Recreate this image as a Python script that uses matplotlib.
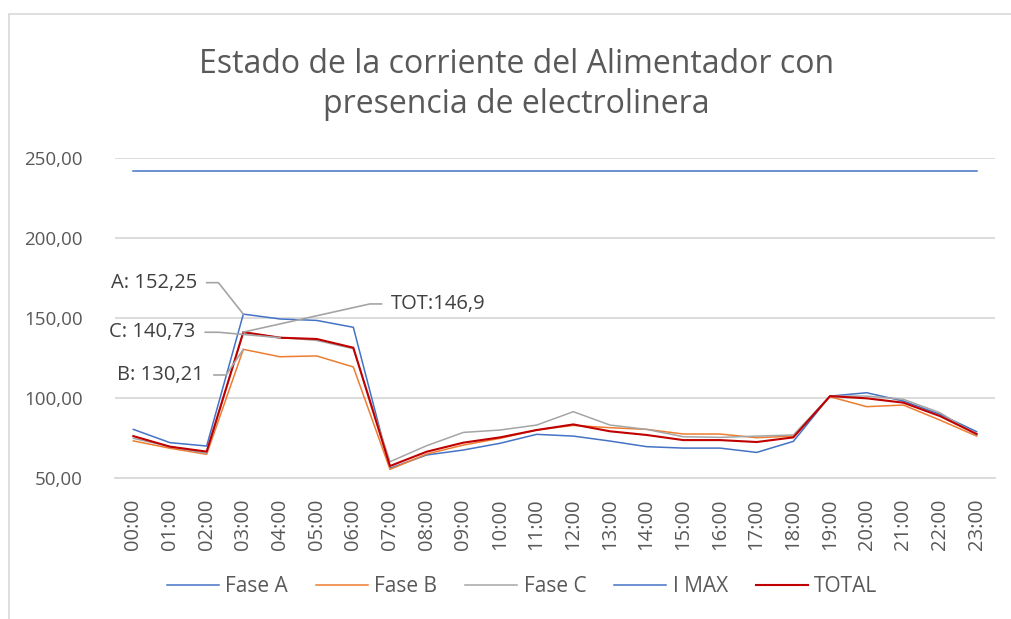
import numpy as np
import matplotlib
matplotlib.use("Agg")
import matplotlib.pyplot as plt
from matplotlib.patches import Rectangle

plt.rcParams['font.family'] = ['Open Sans', 'DejaVu Sans']

horas = ["%02d:00" % h for h in range(24)]

fase_a = [80.2, 71.9, 69.8, 152.25, 149.2, 148.3, 144.0, 55.9, 64.2, 67.3, 71.5, 77.1,
          76.0, 72.9, 69.4, 68.5, 68.5, 65.8, 72.7, 101.0, 103.1, 97.9, 89.6, 78.75]
fase_b = [73.0, 68.4, 64.6, 130.21, 125.6, 126.1, 119.2, 55.2, 64.8, 70.4, 74.6, 79.8,
          82.7, 81.25, 80.2, 77.3, 77.3, 75.0, 76.0, 100.6, 94.4, 95.4, 86.0, 76.0]
fase_c = [74.6, 69.4, 65.2, 140.73, 137.6, 135.8, 130.6, 60.0, 70.0, 78.3, 79.8, 82.9,
          91.25, 82.9, 80.2, 75.6, 75.2, 76.0, 76.7, 101.0, 101.0, 99.0, 90.6, 76.7]
i_max = [241.7] * 24
total = [76.0, 69.4, 66.3, 141.0, 137.5, 136.7, 131.25, 57.3, 66.25, 71.9, 75.2, 79.8,
         83.3, 79.0, 76.7, 73.5, 73.5, 72.3, 75.2, 101.0, 99.6, 96.9, 88.5, 77.3]

gris = '#595959'
W, H = 1011, 619
fig = plt.figure(figsize=(W / 100, H / 100), dpi=100)

# borde del area del grafico (solo se ve arriba e izquierda)
fig.patches.append(Rectangle((9 / W, -0.1), 1.2, 1 - 14 / H + 0.1, transform=fig.transFigure,
                             fill=False, edgecolor='#D9D9D9', lw=1.2))

ax = fig.add_axes([115 / W, 1 - 477.7 / H, 880 / W, 320 / H])
x = np.arange(len(horas))

ax.plot(x, fase_a, color='#4472C4', lw=1.1, label='Fase A')
ax.plot(x, fase_b, color='#ED7D31', lw=1.1, label='Fase B')
ax.plot(x, fase_c, color='#A5A5A5', lw=1.1, label='Fase C')
ax.plot(x, i_max, color='#4472C4', lw=1.1, label='I MAX')
ax.plot(x, total, color='#C00000', lw=1.5, label='TOTAL')

ax.set_xlim(-0.5, 23.5)
ax.set_ylim(50, 250)
ax.set_yticks([50, 100, 150, 200, 250])
ax.yaxis.set_major_formatter(matplotlib.ticker.FuncFormatter(lambda v, p: ("%.2f" % v).replace('.', ',')))
ax.set_xticks(x)
ax.set_xticklabels(horas, rotation=90)
ax.tick_params(axis='both', length=0, colors=gris, labelsize=14.5)
ax.tick_params(axis='y', pad=23, labelsize=13.5)
ax.tick_params(axis='x', pad=15)
ax.grid(axis='y', color='#D9D9D9', lw=1.3)
ax.set_axisbelow(True)
for s in ax.spines.values():
    s.set_visible(False)
ax.spines['bottom'].set_visible(True)
ax.spines['bottom'].set_color('#D9D9D9')
ax.spines['bottom'].set_linewidth(1.3)

# etiquetas de datos con lineas guia
gl = dict(color='#A5A5A5', lw=1.2)
tk = dict(fontsize=14.5, color='#404040', va='center')
ax.plot([2.0, 2.32, 3], [171.9, 171.9, 152.25], **gl)
ax.text(1.74, 171.9, "A: 152,25", ha='right', **tk)
ax.plot([1.96, 2.32, 4], [140.9, 140.9, 137.5], **gl)
ax.text(1.70, 140.9, "C: 140,73", ha='right', **tk)
ax.plot([2.2, 2.53, 3], [114.2, 114.2, 130.21], **gl)
ax.text(1.93, 114.2, "B: 130,21", ha='right', **tk)
ax.plot([3, 6.45, 6.77], [141.0, 158.6, 158.6], **gl)
ax.text(7.02, 158.6, "TOT:146,9", ha='left', **tk)

fig.text(516.5 / W, 1 - 84.5 / H, "Estado de la corriente del Alimentador con\npresencia de electrolinera",
         ha='center', va='center', fontsize=23, color=gris, linespacing=1.3)

leg = fig.legend(loc='center', bbox_to_anchor=(522 / W, 1 - 587 / H), ncol=5, frameon=False,
                 fontsize=15, handlelength=2.5, columnspacing=1.35, handletextpad=0.3)
for t in leg.get_texts():
    t.set_color(gris)

fig.savefig('out.png', dpi=100)
